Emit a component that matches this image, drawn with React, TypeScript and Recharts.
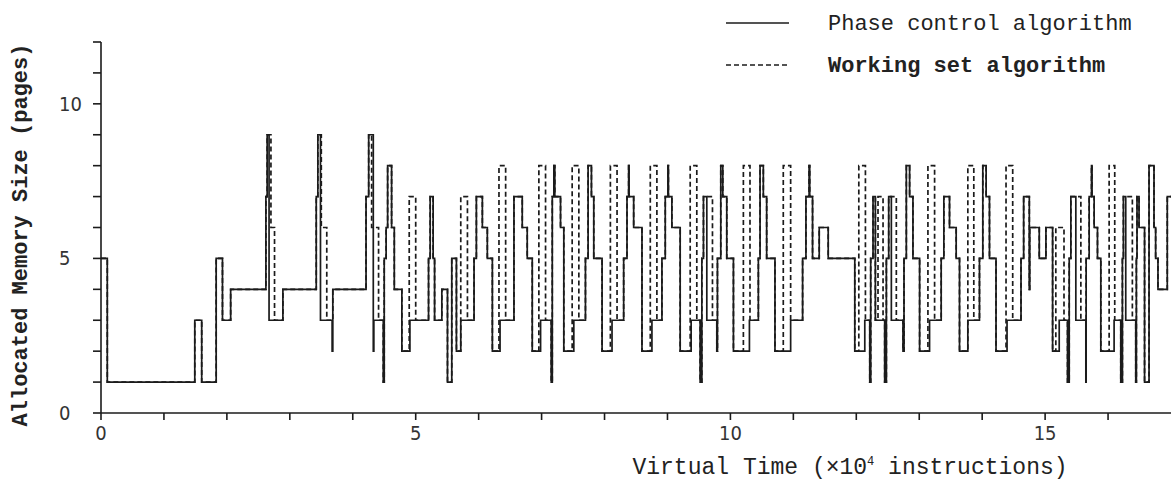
import React from 'react';
import { LineChart, Line, XAxis, YAxis } from 'recharts';

// step breakpoints: [virtual time (x10^4 instr), pages]
const phaseSteps: [number, number][] = [
  [0, 5], [0.1, 1], [1.49, 3], [1.6, 1], [1.83, 5], [1.93, 3], [2.06, 4],
  [2.62, 7], [2.64, 9], [2.67, 3], [2.89, 4],
  [3.42, 7], [3.445, 9], [3.487, 3], [3.672, 2], [3.683, 4],
  [4.211, 7], [4.253, 9], [4.326, 2], [4.335, 3], [4.485, 1], [4.5, 5], [4.53, 6], [4.554, 8], [4.617, 6], [4.66, 4], [4.78, 2], [4.908, 3],
  [5.204, 5], [5.23, 7], [5.277, 5], [5.3, 3], [5.415, 4], [5.505, 1], [5.573, 5], [5.647, 2], [5.716, 3],
  [5.927, 5], [5.964, 7], [6.059, 6], [6.138, 5], [6.218, 2], [6.34, 3],
  [6.561, 7], [6.693, 6], [6.772, 5], [6.852, 2], [6.984, 3],
  [7.153, 1], [7.17, 7], [7.195, 8], [7.21, 7], [7.301, 6], [7.353, 2], [7.512, 3],
  [7.697, 5], [7.739, 8], [7.792, 7], [7.829, 5], [7.961, 2], [8.119, 3],
  [8.304, 5], [8.357, 7], [8.383, 8], [8.39, 7], [8.463, 6], [8.595, 2], [8.753, 3],
  [8.912, 5], [8.965, 7], [9.007, 8], [9.015, 7], [9.07, 6], [9.202, 2], [9.376, 3],
  [9.519, 1], [9.546, 5], [9.572, 7], [9.625, 3], [9.784, 2], [9.794, 5], [9.847, 8], [9.879, 7], [9.942, 5], [10.048, 2], [10.302, 3],
  [10.444, 5], [10.471, 8], [10.523, 7], [10.576, 5], [10.708, 2], [10.957, 3],
  [11.147, 5], [11.2, 7], [11.25, 8], [11.26, 7], [11.305, 5], [11.411, 6], [11.554, 5], [11.976, 2], [12.135, 3],
  [12.214, 1], [12.229, 5], [12.266, 7], [12.303, 3], [12.451, 1], [12.478, 5], [12.515, 7], [12.557, 3], [12.742, 2],
  [12.758, 5], [12.795, 8], [12.847, 7], [12.9, 5], [13.006, 2], [13.164, 3],
  [13.349, 5], [13.391, 7], [13.481, 6], [13.587, 5], [13.64, 2], [13.772, 3],
  [13.957, 5], [14.01, 8], [14.063, 7], [14.116, 5], [14.22, 2], [14.395, 3],
  [14.617, 5], [14.659, 7], [14.749, 4], [14.755, 6], [14.907, 5], [15.013, 6], [15.119, 2], [15.224, 3],
  [15.356, 1], [15.383, 5], [15.409, 7], [15.488, 3], [15.647, 1], [15.652, 5], [15.7, 7], [15.737, 8], [15.745, 7], [15.779, 6], [15.832, 5], [15.885, 2], [16.096, 3],
  [16.202, 1], [16.228, 5], [16.244, 7], [16.281, 3], [16.44, 1], [16.45, 5], [16.46, 7], [16.492, 6], [16.58, 1],
  [16.651, 8], [16.73, 6], [16.756, 5], [16.793, 4], [16.941, 7], [17, 7],
];

const workingSetSteps: [number, number][] = [
  [0, 5], [0.1, 1], [1.49, 3], [1.6, 1], [1.83, 5], [1.93, 3], [2.06, 4],
  [2.62, 7], [2.64, 9], [2.7, 6], [2.757, 3], [2.89, 4],
  [3.42, 7], [3.445, 9], [3.5, 6], [3.587, 3], [3.683, 4],
  [4.211, 7], [4.253, 9], [4.3, 6], [4.41, 3], [4.485, 1], [4.5, 5], [4.53, 6], [4.554, 8], [4.617, 6], [4.66, 4], [4.78, 2],
  [4.897, 7], [5.0, 3], [5.204, 5], [5.23, 7], [5.277, 5], [5.3, 3], [5.415, 4], [5.505, 1], [5.573, 5], [5.647, 2],
  [5.716, 7], [5.822, 3], [5.927, 5], [5.964, 7], [6.059, 6], [6.138, 5], [6.218, 2],
  [6.323, 8], [6.429, 3], [6.561, 7], [6.693, 6], [6.772, 5], [6.852, 2],
  [6.957, 8], [7.063, 3], [7.153, 1], [7.17, 7], [7.195, 8], [7.21, 7], [7.301, 6], [7.353, 2],
  [7.486, 8], [7.592, 3], [7.697, 5], [7.739, 8], [7.792, 7], [7.829, 5], [7.961, 2],
  [8.093, 8], [8.199, 3], [8.304, 5], [8.357, 7], [8.383, 8], [8.39, 7], [8.463, 6], [8.595, 2],
  [8.727, 8], [8.832, 3], [8.912, 5], [8.965, 7], [9.007, 8], [9.015, 7], [9.07, 6], [9.202, 2],
  [9.361, 8], [9.466, 3], [9.519, 1], [9.546, 5], [9.572, 7], [9.715, 3], [9.784, 2], [9.794, 5], [9.847, 8], [9.879, 7], [9.942, 5], [10.048, 2],
  [10.206, 8], [10.311, 3], [10.444, 5], [10.471, 8], [10.523, 7], [10.576, 5], [10.708, 2],
  [10.84, 8], [10.957, 3], [11.147, 5], [11.2, 7], [11.25, 8], [11.26, 7], [11.305, 5], [11.411, 6], [11.554, 5], [11.976, 2],
  [12.04, 8], [12.145, 3], [12.214, 1], [12.229, 5], [12.266, 7], [12.303, 3],
  [12.345, 7], [12.425, 3], [12.451, 1], [12.478, 5], [12.515, 7], [12.636, 3], [12.742, 2],
  [12.758, 5], [12.795, 8], [12.847, 7], [12.9, 5], [13.006, 2],
  [13.138, 8], [13.244, 3], [13.349, 5], [13.391, 7], [13.481, 6], [13.587, 5], [13.64, 2],
  [13.772, 8], [13.867, 3], [13.957, 5], [14.01, 8], [14.063, 7], [14.116, 5], [14.22, 2],
  [14.379, 8], [14.485, 3], [14.617, 5], [14.659, 7], [14.749, 4], [14.755, 6], [14.907, 5], [15.013, 6], [15.119, 2],
  [15.17, 6], [15.3, 3], [15.356, 1], [15.383, 5], [15.409, 7], [15.568, 3], [15.647, 1], [15.652, 5], [15.7, 7], [15.737, 8], [15.745, 7], [15.779, 6], [15.832, 5], [15.885, 2],
  [16.017, 8], [16.106, 3], [16.202, 1], [16.228, 5], [16.244, 7], [16.386, 3], [16.44, 1], [16.45, 5], [16.46, 7], [16.492, 6], [16.58, 1],
  [16.651, 8], [16.73, 6], [16.756, 5], [16.793, 4], [16.941, 7], [17, 7],
];

const xTicks = [0, 1, 2, 3, 4, 5, 6, 7, 8, 9, 10, 11, 12, 13, 14, 15, 16];
const yTicks = [0, 1, 2, 3, 4, 5, 6, 7, 8, 9, 10, 11, 12];
const labelledTicks = [0, 5, 10, 15];

const typewriter = '"Liberation Mono", "DejaVu Sans Mono", monospace';
const plotterFont = '"Liberation Sans Narrow", "DejaVu Sans Condensed", sans-serif';
const ink = '#1b1b1b';

const toPoints = (steps: [number, number][]) => steps.map(([x, y]) => ({ x, y }));

const YTick = (props: any) => {
  const { y, payload } = props;
  if (!labelledTicks.includes(payload.value)) return <g />;
  return (
    <text x={59} y={y + 7} textAnchor="start" fontFamily={plotterFont} fontSize={20} fill="#333">
      {payload.value}
    </text>
  );
};

const App: React.FC = () => {
  const phase = toPoints(phaseSteps);
  const workingSet = toPoints(workingSetSteps);

  return (
    <div style={{ position: 'absolute', left: 0, top: 0, width: 1171, height: 486, background: '#fff' }}>
      <LineChart width={1171} height={486} margin={{ top: 42, right: 0, bottom: 0, left: 0 }}>
        <XAxis
          dataKey="x"
          type="number"
          domain={[0, 17]}
          ticks={xTicks}
          interval={0}
          allowDataOverflow
          tickSize={7}
          height={73}
          stroke={ink}
          strokeWidth={1.6}
          tickFormatter={(v: number) => (labelledTicks.includes(v) ? String(v) : '')}
          tick={{ fontFamily: plotterFont, fontSize: 20, fill: '#333' }}
          tickMargin={6}
        />
        <YAxis
          type="number"
          domain={[0, 12]}
          ticks={yTicks}
          interval={0}
          width={101}
          tickSize={8}
          stroke={ink}
          strokeWidth={1.6}
          tick={YTick}
        />
        <Line
          data={workingSet}
          dataKey="y"
          type="stepAfter"
          stroke={ink}
          strokeWidth={1.7}
          strokeDasharray="5 3"
          dot={false}
          isAnimationActive={false}
        />
        <Line
          data={phase}
          dataKey="y"
          type="stepAfter"
          stroke={ink}
          strokeWidth={1.7}
          dot={false}
          isAnimationActive={false}
        />
      </LineChart>

      {/* legend */}
      <svg style={{ position: 'absolute', left: 0, top: 0 }} width={1171} height={90}>
        <line x1={726} y1={23} x2={789} y2={23} stroke={ink} strokeWidth={1.4} />
        <line x1={726} y1={65} x2={789} y2={65} stroke={ink} strokeWidth={1.4} strokeDasharray="5 3" />
        <text x={828} y={30} fontFamily={typewriter} fontSize={22} fill="#222">Phase control algorithm</text>
        <text x={828} y={72} fontFamily={typewriter} fontSize={22} fontWeight="bold" fill="#222">Working set algorithm</text>
      </svg>

      {/* axis titles */}
      <div
        style={{
          position: 'absolute',
          left: 21,
          top: 235,
          transform: 'translate(-50%, -50%) rotate(-90deg)',
          whiteSpace: 'nowrap',
          fontFamily: typewriter,
          fontSize: 22,
          fontWeight: 'bold',
          color: '#222',
        }}
      >
        Allocated Memory Size (pages)
      </div>
      <div
        style={{
          position: 'absolute',
          left: 850,
          top: 468,
          transform: 'translate(-50%, -50%)',
          whiteSpace: 'nowrap',
          fontFamily: typewriter,
          fontSize: 23,
          color: '#222',
        }}
      >
        Virtual Time (×10<sup style={{ fontSize: 12 }}>4</sup> instructions)
      </div>
    </div>
  );
};

export default App;
